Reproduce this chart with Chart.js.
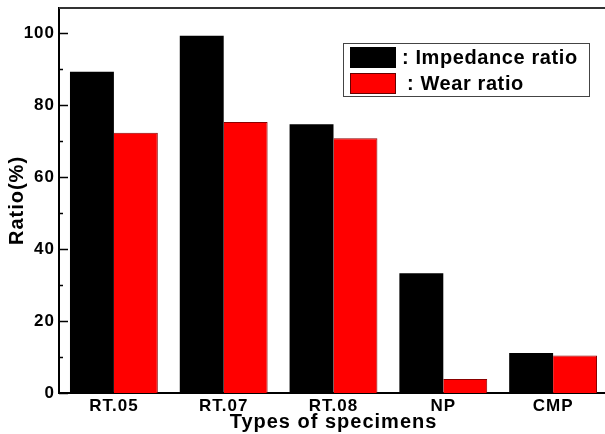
<!DOCTYPE html>
<html>
<head>
<meta charset="utf-8">
<script src="https://cdn.jsdelivr.net/npm/chart.js@4/dist/chart.umd.min.js"></script>
<style>
  html, body { margin: 0; padding: 0; background: #fff; overflow: hidden; }
</style>
</head>
<body>
<canvas id="ratio_chart" width="608" height="434"></canvas>
<script>
// DATA
const specimens = ['RT.05', 'RT.07', 'RT.08', 'NP', 'CMP'];
const impedance_ratio = [89.3, 99.3, 74.7, 33.3, 11.1];
const wear_ratio = [72.3, 75.3, 70.8, 3.9, 10.4];
const y_ticks = [0, 20, 40, 60, 80, 100];

const FONT = '"Liberation Sans", Arial, sans-serif';

// a little extra tracking on all text
const spacing_plugin = {
	id: 'spacing',
	beforeLayout(chart) { chart.ctx.letterSpacing = '1px'; },
	beforeDraw(chart) { chart.ctx.letterSpacing = '1px'; }
};

// tick marks pointing into the plot + frame line along the top
const frame_plugin = {
	id: 'frame',
	afterDatasetsDraw(chart) {
		const c = chart.ctx;
		const area = chart.chartArea;
		const y = chart.scales.y;
		c.save();
		c.strokeStyle = '#000';
		c.lineWidth = 1.5;
		for (let v = 0; v <= 100; v += 10) {
			const py = Math.round(y.getPixelForValue(v)) + 0.5;
			const len = v % 20 === 0 ? 9 : 4;
			c.beginPath();
			c.moveTo(area.left, py);
			c.lineTo(area.left + len, py);
			c.stroke();
		}
		c.strokeStyle = '#333';
		c.lineWidth = 2;
		c.beginPath();
		c.moveTo(area.left, area.top);
		c.lineTo(area.right, area.top);
		c.stroke();
		c.restore();
	}
};

// boxed legend in the upper right
const legend_box_plugin = {
	id: 'legendBox',
	afterDraw(chart) {
		const c = chart.ctx;
		c.save();
		c.letterSpacing = '0.6px';
		c.fillStyle = '#fff';
		c.fillRect(343, 43, 246, 53);
		c.strokeStyle = '#444';
		c.lineWidth = 1;
		c.strokeRect(343.5, 43.5, 246, 53);
		const rows = [
			{ y: 47, text: ': Impedance ratio', tx: 402 },
			{ y: 73, text: ': Wear ratio', tx: 407 }
		];
		chart.data.datasets.forEach((ds, i) => {
			const r = rows[i];
			c.fillStyle = ds.backgroundColor;
			c.fillRect(350, r.y, 46, 21);
			c.strokeStyle = i === 0 ? '#000' : '#600';
			c.lineWidth = 1;
			c.strokeRect(350.5, r.y + 0.5, 45, 20);
			c.fillStyle = '#000';
			c.font = 'bold 20px ' + FONT;
			c.textBaseline = 'middle';
			c.fillText(r.text, r.tx, r.y + 11);
		});
		c.restore();
	}
};

const ctx = document.getElementById('ratio_chart').getContext('2d');

new Chart(ctx, {
	type: 'bar',
	data: {
		labels: specimens,
		datasets: [
			{
				label: 'Impedance ratio',
				data: impedance_ratio,
				backgroundColor: '#000000',
				borderWidth: 0
			},
			{
				label: 'Wear ratio',
				data: wear_ratio,
				backgroundColor: '#ff0000',
				borderColor: '#8a0000',
				borderWidth: { left: 0, top: 1, right: 1, bottom: 0 }
			}
		]
	},
	options: {
		responsive: false,
		animation: false,
		devicePixelRatio: 1,
		layout: { padding: { top: 8, right: 0, left: 0, bottom: 0 } },
		plugins: {
			legend: { display: false },
			tooltip: { enabled: false }
		},
		datasets: {
			bar: { categoryPercentage: 0.8, barPercentage: 1.0 }
		},
		scales: {
			x: {
				grid: { display: false, drawTicks: false },
				border: { display: true, color: '#000', width: 2 },
				ticks: {
					color: '#000',
					padding: 3,
					font: { family: FONT, size: 17, weight: 'bold' }
				},
				title: {
					display: true,
					text: 'Types of specimens',
					color: '#000',
					padding: { top: 0, bottom: 0 },
					font: { family: FONT, size: 20, weight: 'bold' }
				},
				afterFit(scale) {
					scale.height = 41;
					scale.paddingLeft = 0;
					scale.paddingRight = 0;
				}
			},
			y: {
				min: 0,
				max: 107,
				grid: { display: false, drawTicks: false },
				border: { display: true, color: '#000', width: 2 },
				afterBuildTicks(scale) {
					scale.ticks = y_ticks.map(v => ({ value: v }));
				},
				ticks: {
					color: '#000',
					padding: 4,
					font: { family: FONT, size: 17, weight: 'bold' }
				},
				title: {
					display: true,
					text: 'Ratio(%)',
					color: '#000',
					padding: { top: 5, bottom: 0 },
					font: { family: FONT, size: 20, weight: 'bold' }
				},
				afterFit(scale) {
					scale.width = 59;
					scale.paddingTop = 0;
					scale.paddingBottom = 0;
				}
			}
		}
	},
	plugins: [spacing_plugin, frame_plugin, legend_box_plugin]
});
</script>
</body>
</html>
